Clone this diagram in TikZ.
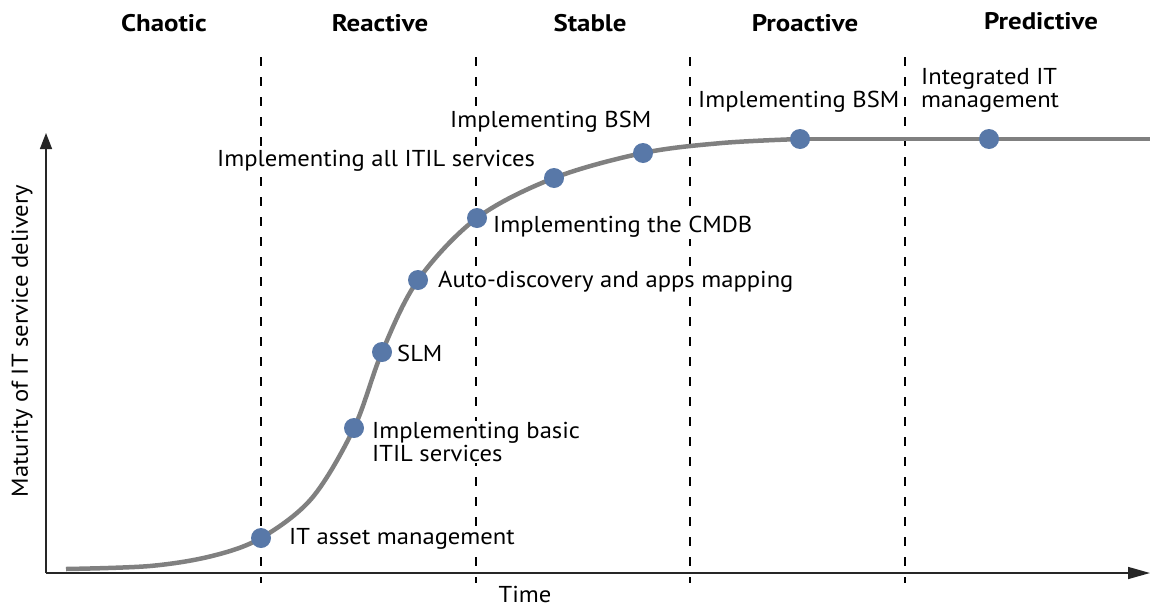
\documentclass[tikz,border=0pt]{standalone}
\usepackage{fontspec}
\setmainfont{PT Sans}[FakeStretch=1.07, BoldFeatures={FakeStretch=1.12}]
\usetikzlibrary{arrows.meta}
\definecolor{curvegray}{HTML}{808080}
\definecolor{dotblue}{HTML}{5878A8}
\tikzset{
  phase/.style={font=\fontsize{24}{28}\selectfont\bfseries, anchor=center},
  lbl/.style={font=\fontsize{23}{23}\selectfont, anchor=west, inner sep=1pt, fill=white, align=left},
  divider/.style={line width=1.2pt, dash pattern=on 9pt off 11pt},
  axis/.style={line width=1.5pt, black!85},
  curve/.style={line width=4.5pt, curvegray},
  milestone/.style={circle, fill=dotblue, minimum size=20pt, inner sep=0pt},
}
\begin{document}
\begin{tikzpicture}[x=1pt, y=-1pt]
\useasboundingbox (0,0) rectangle (1150,608);

% phase headings
\node[phase] (h1) at (164,23) {Chaotic};
\node[phase] (h2) at (380,23) {Reactive};
\node[phase] (h3) at (590,23) {Stable};
\node[phase] (h4) at (805,23) {Proactive};
\node[phase] (h5) at (1041,21) {Predictive};

% phase boundaries
\foreach \x/\n in {261/d1, 476/d2, 690/d3, 905/d4} {
  \coordinate (\n top) at (\x,57);
  \coordinate (\n bot) at (\x,583);
  \draw[divider] (\n top) -- (\n bot);
}

% axes
\coordinate (origin) at (46,573);
\coordinate (yend) at (46,133);
\coordinate (xend) at (1150,573);
\draw[axis, -{Triangle[length=16pt,width=12pt]}] (origin) -- (yend);
\draw[axis, -{Triangle[length=22pt,width=12pt]}] (origin) -- (xend);
\node[font=\fontsize{23}{26}\selectfont, inner sep=0pt] (tlabel) at (525,594) {Time};
\node[font=\fontsize{23}{26}\selectfont, rotate=90, inner sep=0pt] (ylabel) at (22,341) {Maturity of IT service delivery};

% maturity curve
\coordinate (c0) at (66,569);
\coordinate (c1) at (150,566);
\coordinate (c2) at (212,556);
\coordinate (p1) at (261,538);
\coordinate (c3) at (312,498);
\coordinate (p2) at (354,428);
\coordinate (p3) at (382,352);
\coordinate (p4) at (418,280);
\coordinate (p5) at (477,218);
\coordinate (p6) at (554,178);
\coordinate (p7) at (643,153);
\coordinate (c4) at (722,143);
\coordinate (p8) at (800,139);
\coordinate (p9) at (989,139);
\coordinate (cend) at (1150,139);
\draw[curve] plot[smooth, tension=0.55] coordinates {(c0) (c1) (c2) (p1) (c3) (p2) (p3) (p4) (p5) (p6) (p7) (c4) (p8)};
\draw[curve] (p8) -- (cend);

% labels
\node[lbl] (l1) at (288,539) {IT asset management};
\node[lbl] (l2) at (371,442) {Implementing basic\\ITIL services};
\node[lbl] (l3) at (396,353) {SLM};
\node[lbl] (l4) at (437,282) {Auto-discovery and apps mapping};
\node[lbl] (l5) at (492,227) {Implementing the CMDB};
\node[lbl] (l6) at (216,161) {Implementing all ITIL services};
\node[lbl] (l7) at (449,122) {Implementing BSM};
\node[lbl] (l8) at (697,102) {Implementing BSM};
\node[lbl] (l9) at (920,90) {Integrated IT\\management};

% milestones
\foreach \p in {p1,p2,p3,p4,p5,p6,p7,p8,p9}
  \node[milestone] (m\p) at (\p) {};
\end{tikzpicture}
\end{document}
